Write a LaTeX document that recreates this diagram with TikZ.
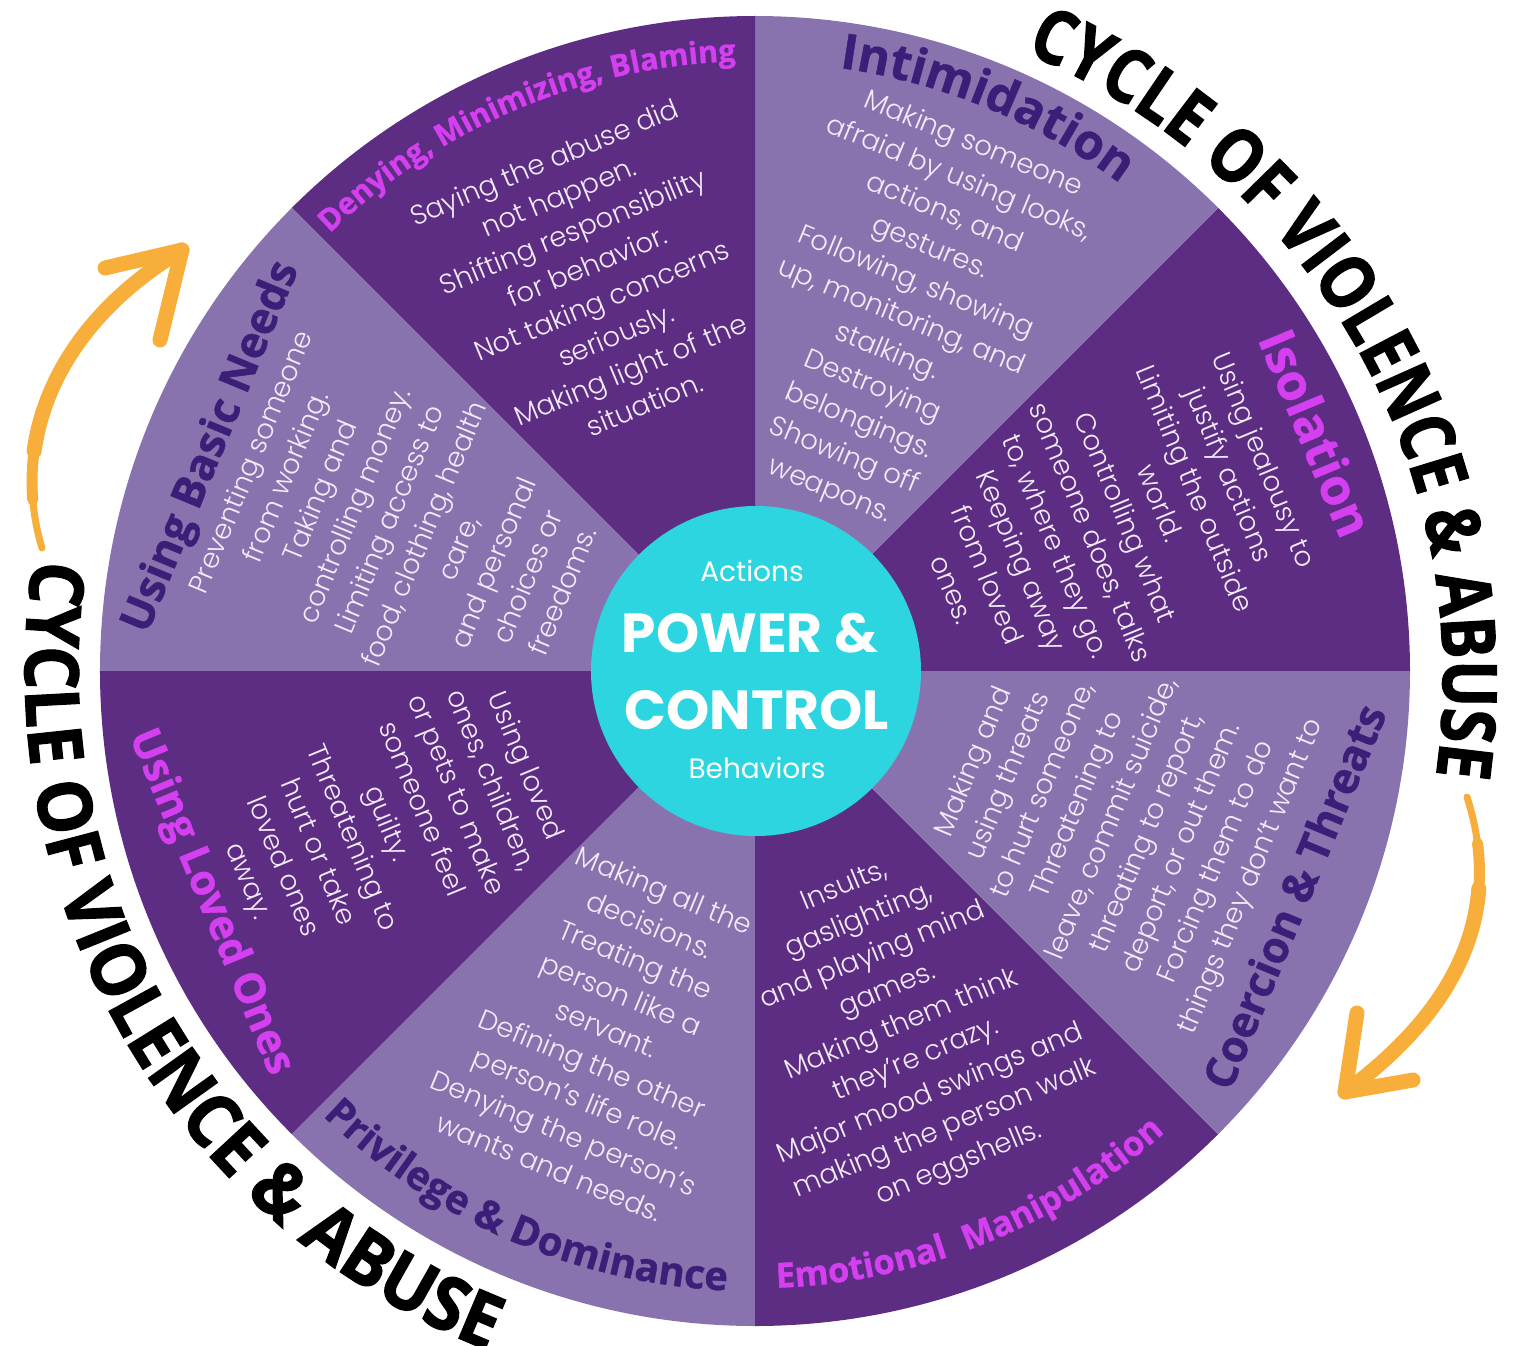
\documentclass[tikz,border=0pt]{standalone}
\usepackage{fontspec}
\usetikzlibrary{decorations.text}

\newfontfamily\titlefont{Open Sans}[FakeBold=1]
\newfontfamily\cyclefont{Open Sans}[FakeStretch=0.835, FakeBold=1.5]
\newfontfamily\cyclefontwide{Open Sans}[FakeStretch=0.92, FakeBold=1.5]
\IfFontExistsTF{Poppins Light}
  {\newfontfamily\bodyfont{Poppins Light}}
  {\newfontfamily\bodyfont{Poppins}}
\newfontfamily\hubfont{Poppins}

\definecolor{darkwedge}{HTML}{5C2D82}
\definecolor{lightwedge}{HTML}{8873AF}
\definecolor{titlemag}{HTML}{D43FF0}
\definecolor{titlenavy}{HTML}{3B1E78}
\definecolor{hubcyan}{HTML}{2CD5E0}
\definecolor{arroworange}{HTML}{F8AE3B}
\definecolor{bodytxt}{HTML}{F2EAF7}

\begin{document}
\begin{tikzpicture}[x=1pt,y=1pt,
  body/.style={text=bodytxt, align=center, inner sep=0pt,
    font=\bodyfont\fontsize{27.5}{37.5}\selectfont},
  sidetitle/.style={inner sep=0pt,
    font=\titlefont\bfseries\fontsize{#1}{#1}\selectfont},
  hubtext/.style={text=white, inner sep=0pt},
  arrowline/.style={draw=arroworange, line width=15pt, line cap=round, line join=round},
  arrowtail/.style={draw=arroworange, line width=#1, line cap=round}]

\useasboundingbox (-755,-674) rectangle (759,671);

% the eight wedges of the wheel
\foreach \a/\c in {0/darkwedge,45/lightwedge,90/darkwedge,135/lightwedge,
                   180/darkwedge,225/lightwedge,270/darkwedge,315/lightwedge}
  \fill[\c] (0,0) -- (\a:655) arc[start angle=\a, end angle=\a+45, radius=655] -- cycle;

% hub
\node[circle, fill=hubcyan, minimum size=330pt, inner sep=0pt] (hub) at (1,0) {};
\node[hubtext, font=\hubfont\fontsize{28}{28}\selectfont] (actions) at (-3,100) {Actions};
\node[hubtext, font=\hubfont\bfseries\fontsize{55}{55}\selectfont] (power) at (-5,38) {POWER \&};
\node[hubtext, font=\hubfont\bfseries\fontsize{55}{55}\selectfont] (control) at (2,-39) {CONTROL};
\node[hubtext, font=\hubfont\fontsize{28}{28}\selectfont] (behav) at (2,-97) {Behaviors};

% wedge descriptions
\node[body, rotate=22.5] (denytxt) at (112.5:420)
  {Saying the abuse did\\not happen.\\Shifting responsibility\\for behavior.\\Not taking concerns\\seriously.\\Making light of the\\situation.};
\node[body, rotate=-22.5] (intimtxt) at (67.5:382)
  {Making someone\\afraid by using looks,\\actions, and\\gestures.\\Following, showing\\up, monitoring, and\\stalking.\\Destroying\\belongings.\\Showing off\\weapons.};
\node[body, rotate=-67.5] (isotxt) at (22.5:383)
  {Using jealousy to\\justify actions\\Limiting the outside\\world.\\Controlling what\\someone does, talks\\to, where they go.\\Keeping away\\from loved\\ones.};
\node[body, rotate=67.5] (coertxt) at (-22.5:388)
  {Making and\\using threats\\to hurt someone,\\Threatening to\\leave, commit suicide,\\threating to report,\\deport, or out them.\\Forcing them to do\\things they don’t want to};
\node[body, rotate=22.5] (emotxt) at (-67.5:384)
  {Insults,\\gaslighting,\\and playing mind\\games.\\Making them think\\they’re crazy.\\Major mood swings and\\making the person walk\\on eggshells.};
\node[body, rotate=-22.5] (privtxt) at (-112.5:387)
  {Making all the\\decisions.\\Treating the\\person like a\\servant.\\Defining the other\\person’s life role.\\Denying the person’s\\wants and needs.};
\node[body, rotate=-67.5] (lovedtxt) at (-157.5:400)
  {Using loved\\ones, children,\\or pets to make\\someone feel\\guilty.\\Threatening to\\hurt or take\\loved ones\\away.};
\node[body, rotate=67.5] (basictxt) at (157.5:378)
  {Preventing someone\\from working.\\Taking and\\controlling money.\\Limiting access to\\food, clothing, health\\care,\\and personal\\choices or\\freedoms.};

% straight wedge titles
\node[sidetitle=44, text=titlenavy, rotate=67.5] (basicttl) at (157.6:587) {Using Basic Needs};
\node[sidetitle=50, text=titlemag, rotate=-67.5] (isottl) at (23:610) {Isolation};
\node[sidetitle=43.5, text=titlenavy, rotate=67.5] (coerttl) at (-22.7:584) {Coercion \& Threats};
\node[sidetitle=42, text=titlemag, rotate=-67.5] (lovedttl) at (-157:592) {Using Loved Ones};

% curved wedge titles
\path[decorate, decoration={text along path, text align=center,
  text={|\titlefont\bfseries\fontsize{30.5}{30.5}\selectfont\color{titlemag}|Denying, Minimizing, Blaming}}]
  (153:610) arc[start angle=153, end angle=73, radius=610];
\path[decorate, decoration={text along path, text align=center,
  text={|\titlefont\bfseries\fontsize{49}{49}\selectfont\color{titlenavy}|Intimidation}}]
  (107.6:609) arc[start angle=107.6, end angle=27.6, radius=609];
\path[decorate, decoration={text along path, text align=center,
  text={|\titlefont\bfseries\fontsize{34.5}{34.5}\selectfont\color{titlemag}|Emotional {\hspace{0.3em}}Manipulation}}]
  (-113.2:617) arc[start angle=-113.2, end angle=-23.2, radius=617];
\path[decorate, decoration={text along path, text align=center,
  text={|\titlefont\bfseries\fontsize{40}{40}\selectfont\color{titlenavy}|Privilege {\&} Dominance}}]
  (-158.4:620) arc[start angle=-158.4, end angle=-68.4, radius=620];

% outer captions
\path[shift={(10,-8)}, decorate, decoration={text along path, text align=center,
  text={|\cyclefont\bfseries\fontsize{75}{75}\selectfont|CYCLE OF VIOLENCE {\&} ABUSE}}]
  (89.6:678) arc[start angle=89.6, end angle=-30.4, radius=678];
\path[decorate, decoration={text along path, text align=center,
  text={|\cyclefontwide\bfseries\fontsize{75}{75}\selectfont|CYCLE OF VIOLENCE {\&} ABUSE}}]
  (149.9:730) arc[start angle=149.9, end angle=269.9, radius=730];

% orange arrows: tapered shaft built from three overlapping strokes
\coordinate (rtail) at (712,-126);
\coordinate (rmidA) at (722.5,-172.1);
\coordinate (rmidB) at (723.8,-217.7);
\coordinate (rtip) at (590,-421);
\coordinate (rbarbA) at (602,-342);
\coordinate (rbarbB) at (658,-409);
\draw[arrowtail=7pt] (rtail) .. controls (745,-229) and (715,-329) .. (rtip);
\draw[arrowtail=11pt] (rmidA) .. controls (733.9,-258.8) and (696.25,-342.8) .. (rtip);
\draw[arrowline] (rmidB) .. controls (718.45,-288.3) and (677.5,-356.6) .. (rtip);
\draw[arrowline] (rbarbA) -- (rtip) -- (rbarbB);

\coordinate (ltail) at (-713,123);
\coordinate (lmidA) at (-722.2,171.2);
\coordinate (lmidB) at (-720.9,219.8);
\coordinate (ltip) at (-573,421);
\coordinate (lbarbA) at (-595,331);
\coordinate (lbarbB) at (-650,403);
\draw[arrowtail=7pt] (ltail) .. controls (-745,229) and (-700,345) .. (ltip);
\draw[arrowtail=11pt] (lmidA) .. controls (-729.65,262.9) and (-680.95,356.4) .. (ltip);
\draw[arrowline] (lmidB) .. controls (-710.6,295.0) and (-661.9,367.8) .. (ltip);
\draw[arrowline] (lbarbA) -- (ltip) -- (lbarbB);
\end{tikzpicture}
\end{document}
